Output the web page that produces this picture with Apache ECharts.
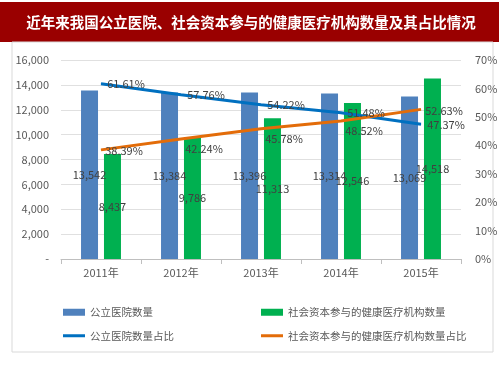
<!DOCTYPE html>
<html><head><meta charset="utf-8">
<script src="https://cdn.jsdelivr.net/npm/echarts@6/dist/echarts.min.js"></script>
<style>html,body{margin:0;padding:0;background:#fff}#c{width:503px;height:378px}</style>
</head><body><div id="c"></div>
<script>
const categories = ['2011年','2012年','2013年','2014年','2015年'];
const publicCount = [13542, 13384, 13396, 13314, 13069];
const socialCount = [8437, 9786, 11313, 12546, 14518];
const publicShare = [61.61, 57.76, 54.22, 51.48, 47.37];
const socialShare = [38.39, 42.24, 45.78, 48.52, 52.63];
const leftTicks = [0, 2000, 4000, 6000, 8000, 10000, 12000, 14000, 16000];
const rightTicks = [0, 10, 20, 30, 40, 50, 60, 70];

const chart = echarts.init(document.getElementById('c'));
const fmt = n => n.toLocaleString('en-US');
const lblFont = {fontFamily:'Noto Sans CJK SC', fontSize:11, color:'#404040'};
const lineIcon = 'path://M0,0 L22,0 L22,3 L0,3 Z';
const legendText = {color:'#595959', fontSize:10.5};
// labels of the middle orange points sit a little below the line, as in the reference
const socialShareData = socialShare.map((v, i) => ({value: v, label: {offset: [0, (i > 0 && i < 4) ? 10 : 1]}}));
chart.setOption({
  animation:false,
  textStyle:{fontFamily:'Noto Sans CJK SC'},
  graphic:[
    {type:'rect', shape:{x:0,y:2,width:499,height:40}, style:{fill:'#9a0000'}},
    {type:'rect', shape:{x:12,y:42,width:481,height:310}, style:{fill:'none',stroke:'#d9d9d9',lineWidth:1}},
    {type:'text', x:251, y:22, style:{text:'近年来我国公立医院、社会资本参与的健康医疗机构数量及其占比情况', fill:'#fff', font:'bold 14.5px "Noto Sans CJK SC"', align:'center', verticalAlign:'middle'}}
  ],
  grid:{left:61, right:42, top:60, bottom:119},
  legend:[
    {left:58, top:302, orient:'vertical', itemGap:13, itemWidth:22, itemHeight:7, textStyle:legendText,
     data:[{name:'公立医院数量', icon:'rect'}, {name:'公立医院数量占比', icon:lineIcon, itemStyle:{color:'#0070c0', opacity:1}}]},
    {left:256, top:302, orient:'vertical', itemGap:13, itemWidth:22, itemHeight:7, textStyle:legendText,
     data:[{name:'社会资本参与的健康医疗机构数量', icon:'rect'}, {name:'社会资本参与的健康医疗机构数量占比', icon:lineIcon, itemStyle:{color:'#e36c09', opacity:1}}]}
  ],
  xAxis:{
    type:'category', data:categories,
    axisLine:{lineStyle:{color:'#bfbfbf'}},
    axisTick:{show:true, alignWithLabel:false, lineStyle:{color:'#bfbfbf'}, length:5},
    axisLabel:{color:'#595959', fontSize:11, margin:8}
  },
  yAxis:[
    {type:'value', min:0, max:16000, interval:2000,
     axisLine:{show:false}, axisTick:{show:false},
     splitLine:{lineStyle:{color:'#e0e0e0'}},
     axisLabel:{color:'#595959', fontSize:11, margin:12, formatter:v => v===0 ? '-' : fmt(v)}},
    {type:'value', min:0, max:70, interval:10,
     axisLine:{show:false}, axisTick:{show:false}, splitLine:{show:false},
     axisLabel:{color:'#595959', fontSize:11, margin:14, formatter:'{value}%'}}
  ],
  series:[
    {name:'公立医院数量', type:'bar', data:publicCount, barWidth:17, barGap:'35%',
     itemStyle:{color:'#4f81bd'},
     label:{show:true, position:'inside', ...lblFont, formatter:p=>fmt(p.value)}},
    {name:'社会资本参与的健康医疗机构数量', type:'bar', data:socialCount, barWidth:17,
     itemStyle:{color:'#00b050'},
     label:{show:true, position:'inside', ...lblFont, formatter:p=>fmt(p.value)}},
    {name:'公立医院数量占比', type:'line', yAxisIndex:1, data:publicShare, symbol:'circle', symbolSize:0.5, showSymbol:true,
     lineStyle:{color:'#0070c0', width:3}, itemStyle:{color:'#0070c0'},
     label:{show:true, position:'right', distance:6, ...lblFont, formatter:p=>p.value.toFixed(2)+'%'}},
    {name:'社会资本参与的健康医疗机构数量占比', type:'line', yAxisIndex:1, data:socialShareData, symbol:'circle', symbolSize:0.5, showSymbol:true,
     lineStyle:{color:'#e36c09', width:3}, itemStyle:{color:'#e36c09'},
     label:{show:true, position:'right', distance:4, ...lblFont, formatter:p=>p.value.toFixed(2)+'%'}}
  ]
});
</script></body></html>
